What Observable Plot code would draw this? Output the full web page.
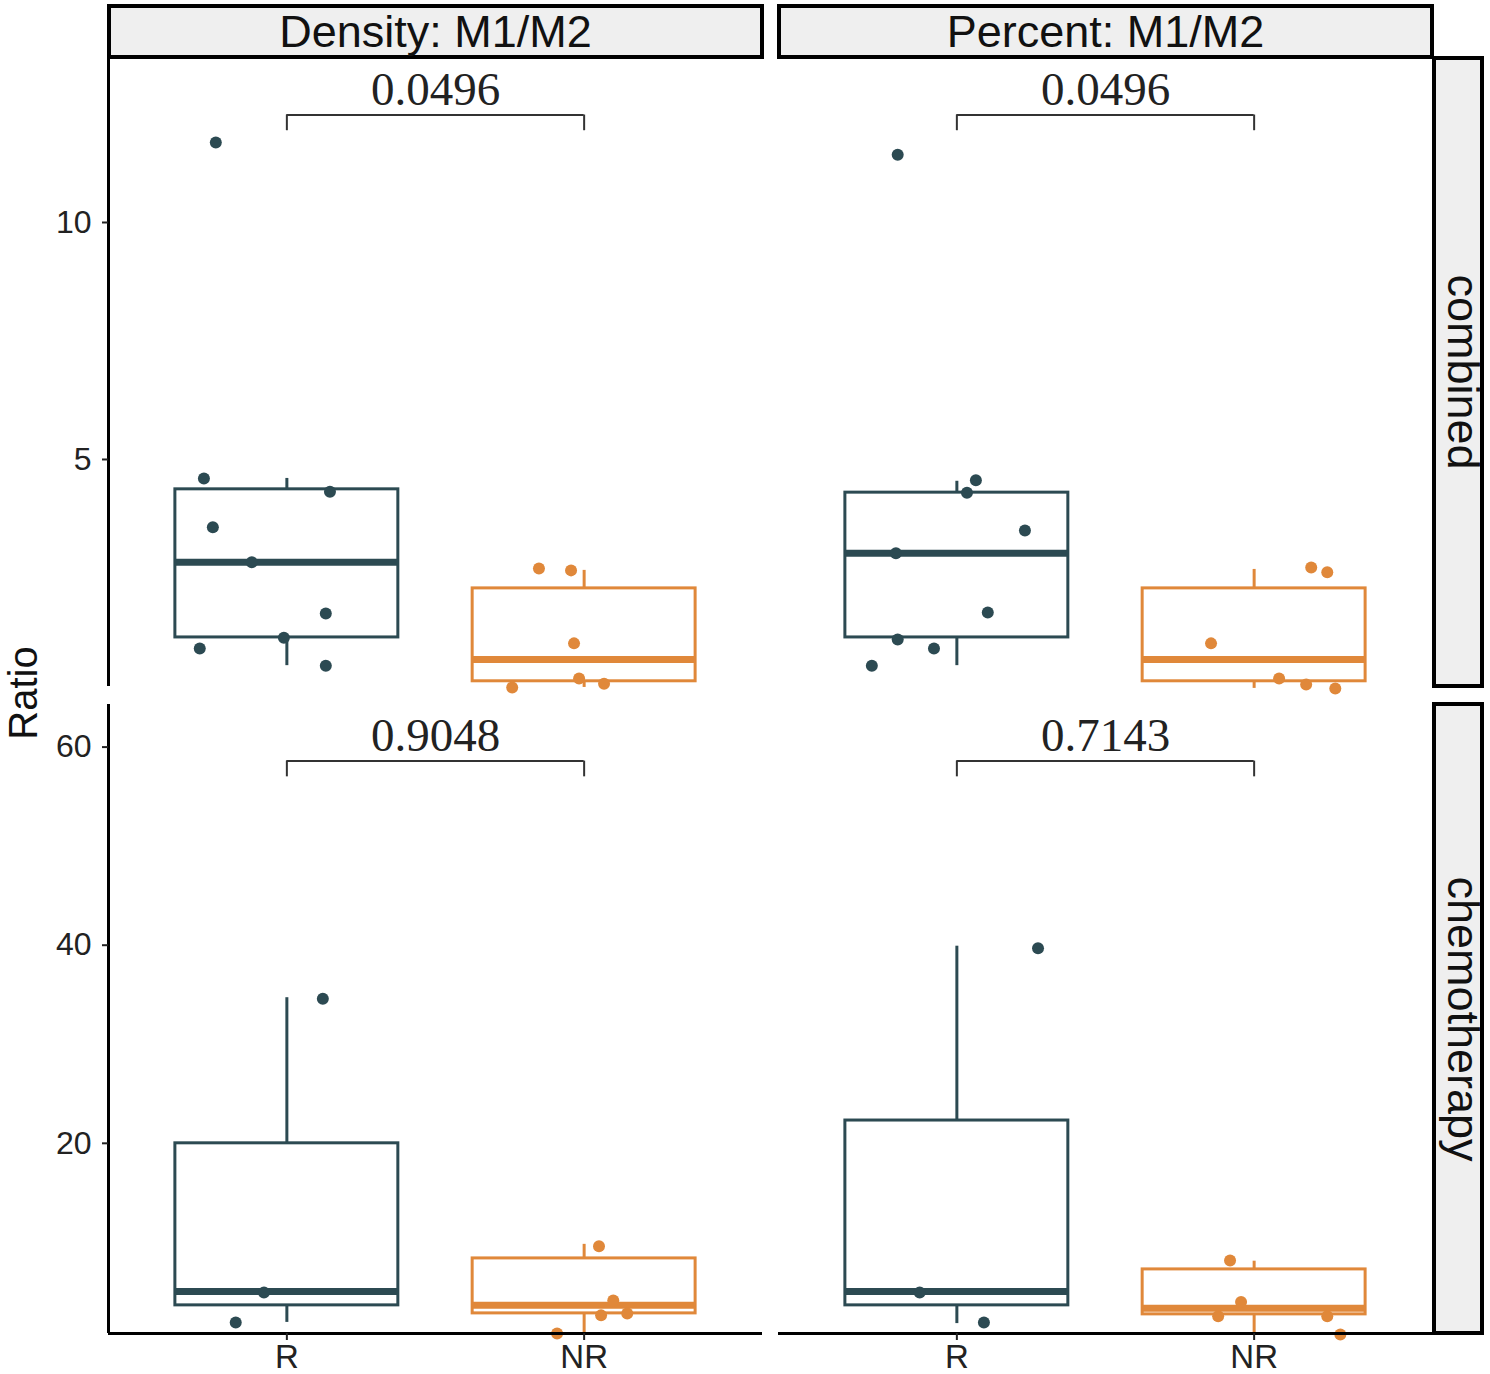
<!DOCTYPE html>
<html><head><meta charset="utf-8">
<script src="https://cdn.jsdelivr.net/npm/d3@7"></script>
<script src="https://cdn.jsdelivr.net/npm/@observablehq/plot@0.6"></script>
<style>
body{margin:0;background:#fff;}
#root{position:relative;width:1490px;height:1374px;overflow:hidden;font-family:"Liberation Sans",Arial,sans-serif;}
.strip{position:absolute;box-sizing:border-box;border:4px solid #000;background:#efefef;display:flex;align-items:center;justify-content:center;color:#111;font-size:45px;}
.strip span{white-space:nowrap;display:block;}
.strip.v span{transform:translateX(5px) rotate(90deg);}
.panel{position:absolute;}
.panel svg{overflow:visible;}
#ylab{position:absolute;left:23px;top:693px;transform:translate(-50%,-50%) rotate(-90deg);font-size:40px;color:#111;white-space:nowrap;}
</style></head><body><div id="root"></div>
<script>
// ---------- data ----------
const groups = ["R", "NR"];
const columnLabels = ["Density: M1/M2", "Percent: M1/M2"];
const rowLabels = ["combined", "chemotherapy"];
const groupColors = ["#2c4a52", "#e0883a"];

// jittered points: values and horizontal jitter (in group units)
const densityCombinedR = [11.69, 4.60, 4.32, 3.57, 2.83, 1.75, 1.24, 1.01, 0.65];
const densityCombinedRJitter = [-0.239, -0.279, 0.145, -0.249, -0.118, 0.131, -0.01, -0.293, 0.131];
const densityCombinedNR = [2.70, 2.66, 1.12, 0.38, 0.27, 0.19];
const densityCombinedNRJitter = [-0.152, -0.044, -0.034, -0.017, 0.067, -0.242];
const percentCombinedR = [11.43, 4.56, 4.30, 3.50, 3.02, 1.77, 1.20, 1.01, 0.65];
const percentCombinedRJitter = [-0.199, 0.064, 0.034, 0.229, -0.205, 0.104, -0.199, -0.077, -0.286];
const percentCombinedNR = [2.72, 2.62, 1.12, 0.38, 0.25, 0.17];
const percentCombinedNRJitter = [0.192, 0.246, -0.145, 0.084, 0.175, 0.273];
const densityChemoR = [34.6, 4.95, 1.92];
const densityChemoRJitter = [0.121, -0.077, -0.172];
const densityChemoNR = [9.6, 4.14, 2.83, 2.63, 0.8];
const densityChemoNRJitter = [0.05, 0.098, 0.145, 0.057, -0.091];
const percentChemoR = [39.7, 4.95, 1.92];
const percentChemoRJitter = [0.273, -0.125, 0.091];
const percentChemoNR = [8.18, 3.97, 2.53, 2.53, 0.71];
const percentChemoNRJitter = [-0.081, -0.044, -0.121, 0.246, 0.29];

// box statistics: [lower whisker, Q1, median, Q3, upper whisker]
const densityCombinedRBox = [0.65, 1.245, 2.83, 4.37, 4.60];
const densityCombinedNRBox = [0.19, 0.32, 0.78, 2.28, 2.66];
const percentCombinedRBox = [0.65, 1.245, 3.02, 4.30, 4.54];
const percentCombinedNRBox = [0.17, 0.32, 0.78, 2.28, 2.68];
const densityChemoRBox = [1.92, 3.64, 5.05, 20.0, 34.7];
const densityChemoNRBox = [0.7, 2.83, 3.64, 8.38, 9.8];
const percentChemoRBox = [1.8, 3.64, 5.05, 22.3, 39.9];
const percentChemoNRBox = [0.8, 2.73, 3.35, 7.27, 8.1];

// p-values
const pValues = [["0.0496", "0.0496"], ["0.9048", "0.7143"]];

// y axis
const combinedTicks = [5, 10];
const chemoTicks = [20, 40, 60];
const combinedDomain = [0.21, 13.46];
const chemoDomain = [0.8, 64.3];

// ---------- assemble ----------
const panelData = [
  [
    {pts: [[densityCombinedR, densityCombinedRJitter], [densityCombinedNR, densityCombinedNRJitter]], box: [densityCombinedRBox, densityCombinedNRBox]},
    {pts: [[percentCombinedR, percentCombinedRJitter], [percentCombinedNR, percentCombinedNRJitter]], box: [percentCombinedRBox, percentCombinedNRBox]}
  ],
  [
    {pts: [[densityChemoR, densityChemoRJitter], [densityChemoNR, densityChemoNRJitter]], box: [densityChemoRBox, densityChemoNRBox]},
    {pts: [[percentChemoR, percentChemoRJitter], [percentChemoNR, percentChemoNRJitter]], box: [percentChemoRBox, percentChemoNRBox]}
  ]
];
const rowDomains = [combinedDomain, chemoDomain];
const rowTicks = [combinedTicks, chemoTicks];

const root = document.getElementById("root");

// layout (pixels)
const colLeft = [108, 778];
const panelW = 654;
const rowTop = [58, 704];
const panelH = [628, 629];

function makePanel(r, c) {
  const spec = panelData[r][c];
  const dom = rowDomains[r];
  const span = dom[1] - dom[0];
  const isLeft = c === 0, isBottom = r === 1;
  const mL = isLeft ? 108 : 0;
  const mB = isBottom ? 50 : 0;

  const points = [];
  spec.pts.forEach(([vals, jit], gi) => vals.forEach((v, i) => points.push({g: gi, x: gi + 1 + jit[i], y: v})));
  const boxes = spec.box.map((b, gi) => ({g: gi, pos: gi + 1, lo: b[0], q1: b[1], med: b[2], q3: b[3], hi: b[4]}));

  const bracketY = dom[1] - 0.09 * span;
  const bracketEnd = dom[1] - 0.115 * span;
  const textY = dom[1] - 0.05 * span;

  const marks = [
    Plot.ruleX(boxes, {x: "pos", y1: "q3", y2: "hi", stroke: d => groupColors[d.g], strokeWidth: 3}),
    Plot.ruleX(boxes, {x: "pos", y1: "lo", y2: "q1", stroke: d => groupColors[d.g], strokeWidth: 3}),
    Plot.rect(boxes, {x1: d => d.pos - 0.375, x2: d => d.pos + 0.375, y1: "q1", y2: "q3", fill: "white", stroke: d => groupColors[d.g], strokeWidth: 3}),
    Plot.ruleY(boxes, {x1: d => d.pos - 0.375, x2: d => d.pos + 0.375, y: "med", stroke: d => groupColors[d.g], strokeWidth: 7}),
    Plot.dot(points, {x: "x", y: "y", r: 6, fill: d => groupColors[d.g], stroke: "none"}),
    Plot.ruleY([bracketY], {x1: 1, x2: 2, stroke: "#333", strokeWidth: 2}),
    Plot.ruleX([1, 2], {y1: bracketY, y2: bracketEnd, stroke: "#333", strokeWidth: 2}),
    Plot.text([pValues[r][c]], {x: 1.5, y: textY, text: d => d, fontFamily: "Liberation Serif, DejaVu Serif, serif", fontSize: 47, fill: "#222"})
  ];
  if (isLeft) {
    marks.push(Plot.ruleX([0.4], {stroke: "#000", strokeWidth: 3}));
    marks.push(Plot.axisY(rowTicks[r], {tickSize: 6, tickPadding: 11, fontSize: 32, color: "#222", strokeWidth: 2}));
  }
  if (isBottom) {
    marks.push(Plot.ruleY([dom[0]], {stroke: "#000", strokeWidth: 3}));
    marks.push(Plot.axisX([1, 2], {tickFormat: d => groups[d - 1], tickSize: 7, tickPadding: 4, fontSize: 33, color: "#222", strokeWidth: 2}));
  }

  const svg = Plot.plot({
    width: panelW + mL,
    height: panelH[r] + mB,
    marginLeft: mL, marginRight: 0, marginTop: 0, marginBottom: mB,
    x: {domain: [0.4, 2.6], axis: null},
    y: {domain: dom, axis: null},
    style: {fontFamily: "Liberation Sans, Arial, sans-serif", background: "transparent", overflow: "visible"},
    marks
  });
  const wrap = document.createElement("div");
  wrap.className = "panel";
  wrap.style.left = (colLeft[c] - mL) + "px";
  wrap.style.top = rowTop[r] + "px";
  wrap.appendChild(svg);
  root.appendChild(wrap);
}

for (let r = 0; r < 2; r++) for (let c = 0; c < 2; c++) makePanel(r, c);

// column strips
columnLabels.forEach((lab, c) => {
  const d = document.createElement("div");
  d.className = "strip";
  d.style.left = (colLeft[c] - 1) + "px";
  d.style.top = "4px";
  d.style.width = (panelW + 3) + "px";
  d.style.height = "55px";
  d.innerHTML = `<span>${lab}</span>`;
  root.appendChild(d);
});
// row strips
rowLabels.forEach((lab, r) => {
  const d = document.createElement("div");
  d.className = "strip v";
  d.style.left = "1432px";
  d.style.top = (rowTop[r] - 2) + "px";
  d.style.width = "52px";
  d.style.height = (panelH[r] + 4) + "px";
  d.innerHTML = `<span>${lab}</span>`;
  root.appendChild(d);
});
// y label
const yl = document.createElement("div");
yl.id = "ylab";
yl.textContent = "Ratio";
root.appendChild(yl);
</script>
</body></html>
